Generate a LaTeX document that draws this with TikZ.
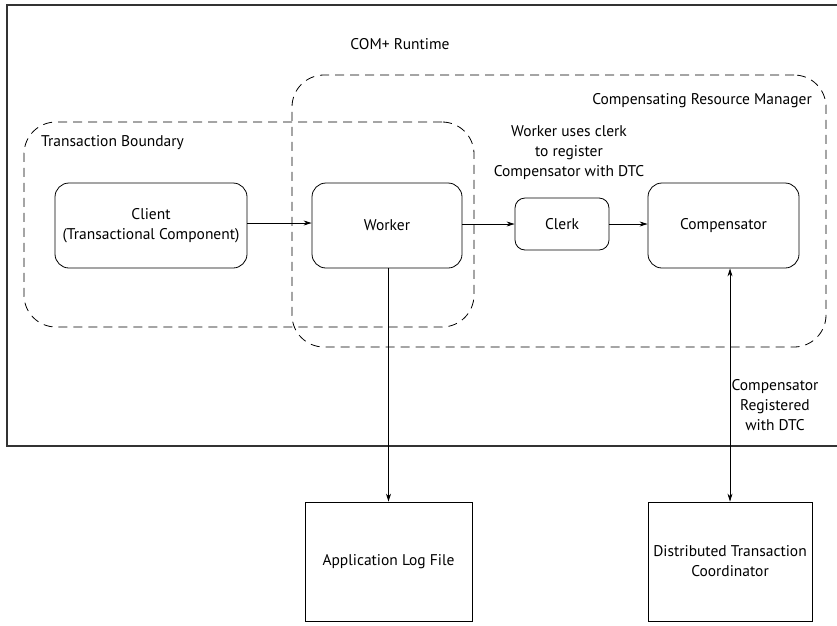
\documentclass[tikz,border=0pt]{standalone}
\usepackage{fontspec}
\setmainfont{PT Sans}
\usetikzlibrary{arrows.meta}
\begin{document}
\begin{tikzpicture}[x=1pt,y=-1pt,
  every node/.style={font=\fontsize{15.5}{20}\selectfont, align=center},
  box/.style={draw, line width=0.8pt, rounded corners=14pt, minimum width=#1, inner sep=0pt},
  sbox/.style={draw, line width=0.8pt, minimum width=#1, inner sep=0pt},
  region/.style={draw, line width=0.8pt, dash pattern=on 9pt off 6pt, rounded corners=32pt, inner sep=0pt},
  conn/.style={line width=0.8pt, -{Stealth[length=8pt,width=5pt]}},
  dconn/.style={line width=0.8pt, {Stealth[length=8pt,width=5pt]}-{Stealth[length=8pt,width=5pt]}},
  lbl/.style={inner sep=0pt}]
\useasboundingbox (0,0) rectangle (837,625);
\fill[white] (0,0) rectangle (837,625);
% outer runtime frame
\draw[line width=1.2pt, draw=black!80] (837,5) -- (7,5) -- (7,446) -- (837,446);
\node[lbl] (runtime) at (400,44) {COM+ Runtime};
% regions
\node[region, minimum width=534pt, minimum height=272pt] (crm) at (559,211) {};
\node[region, minimum width=450pt, minimum height=205pt] (tb) at (249,224.5) {};
\node[lbl, anchor=east] (crmlbl) at (812,101) {Compensating Resource Manager};
\node[lbl, anchor=west] (tblbl) at (41,143) {Transaction Boundary};
% components
\node[box=192pt, minimum height=85pt] (client) at (151,225.5) {Client\\(Transactional Component)};
\node[box=150pt, minimum height=85pt] (worker) at (387,225.5) {Worker};
\node[box=94pt, minimum height=52pt, rounded corners=10pt] (clerk) at (562,224) {Clerk};
\node[box=151pt, minimum height=85pt] (comp) at (723.5,225.5) {Compensator};
\node[sbox=167pt, minimum height=119pt] (log) at (388.5,561.5) {Application Log File};
\node[sbox=164pt, minimum height=119pt] (dtc) at (730,561.5) {Distributed Transaction\\Coordinator};
% labels
\node[lbl] (uselbl) at (569,153) {Worker uses clerk\\to register\\Compensator with DTC};
\node[lbl] (reglbl) at (775,405) {Compensator\\Registered\\with DTC};
% connectors
\draw[conn] (client.east |- 0,223) -- (worker.west |- 0,223);
\draw[conn] (worker.east |- 0,224) -- (clerk.west |- 0,224);
\draw[conn] (clerk.east |- 0,224) -- (comp.west |- 0,224);
\draw[conn] (worker.south -| log.north) -- (log.north);
\draw[dconn] (comp.south -| dtc.north) -- (dtc.north);
\end{tikzpicture}
\end{document}
